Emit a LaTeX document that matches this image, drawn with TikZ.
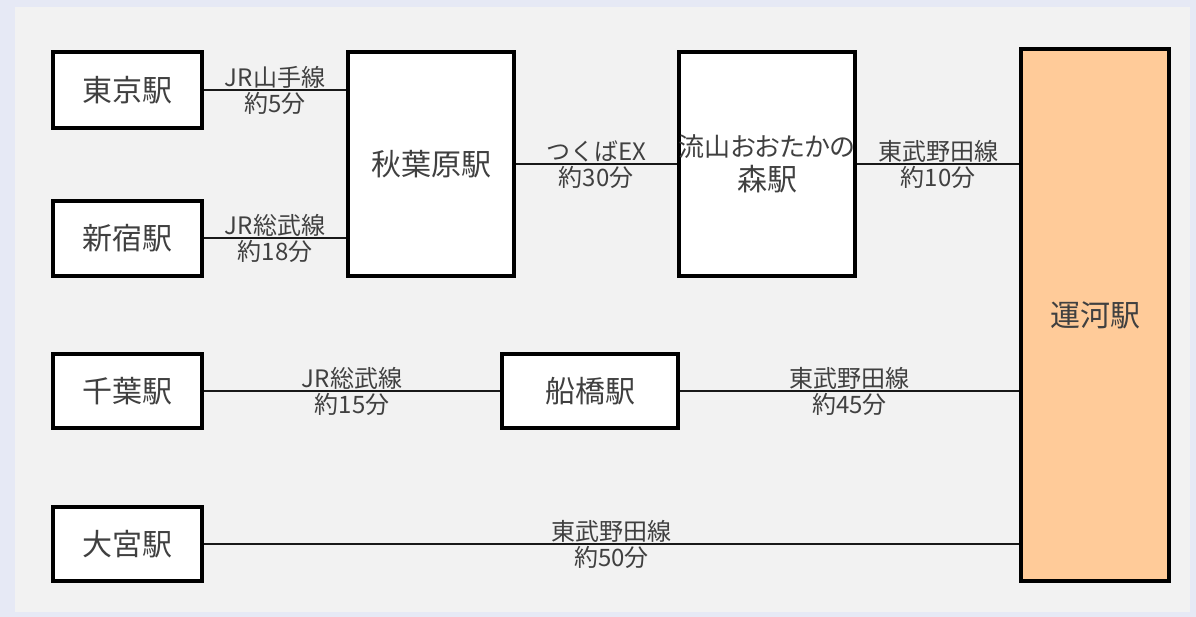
\documentclass[tikz,border=0pt]{standalone}
\usepackage{fontspec}
\setmainfont{Noto Sans CJK JP}
\newfontfamily\jpprop[RawFeature=+palt]{Noto Sans CJK JP}
\usetikzlibrary{calc}

\definecolor{panelgray}{HTML}{F2F2F2}
\definecolor{slideblue}{HTML}{E6E9F5}
\definecolor{textgray}{HTML}{404040}
\definecolor{ungaorange}{HTML}{FFCB99}

\begin{document}
\begin{tikzpicture}[x=1pt, y=-1pt,
	station/.style={draw, line width=4pt, fill=white, text=textgray,
		inner sep=0pt, align=center, font=\fontsize{30}{34}\selectfont},
	link/.style={line width=2pt, black!90},
	lineinfo/.style={text=textgray, inner sep=1pt,
		font=\fontsize{24}{26}\selectfont}]

	\def\xL{127.5}
	\def\yA{90}
	\def\yB{238.5}
	\def\yC{391}
	\def\yD{544}

	% background
	\useasboundingbox (0,0) rectangle (1196,617);
	\fill[slideblue] (0,0) rectangle (1196,617);
	\fill[panelgray] (15,7) rectangle (1190,612);

	% left column
	\node[station, minimum width=149pt, minimum height=76pt] (tokyo) at (\xL,\yA) {東京駅};
	\node[station, minimum width=149pt, minimum height=75pt] (shinjuku) at (\xL,\yB) {新宿駅};
	\node[station, minimum width=149pt, minimum height=74pt] (chiba) at (\xL,\yC) {千葉駅};
	\node[station, minimum width=149pt, minimum height=74pt] (omiya) at (\xL,\yD) {大宮駅};

	% middle
	\node[station, minimum width=166pt, minimum height=224pt] (akiba) at (431,164) {秋葉原駅};
	\node[station, minimum width=176pt, minimum height=224pt] (nagare) at (767,164)
		{{\jpprop\fontsize{26}{34}\selectfont 流山おおたかの}\\森駅};
	\node[station, minimum width=176pt, minimum height=74pt] (funa) at (590,\yC) {船橋駅};

	% Unga
	\node[station, fill=ungaorange, minimum width=148pt, minimum height=532pt] (unga) at (1095,315) {運河駅};

	\draw[link] (tokyo.east) -- (tokyo.east -| akiba.west)
		node[midway, above, lineinfo] {JR山手線}
		node[midway, below, lineinfo] {約5分};
	\draw[link] (shinjuku.east) -- (shinjuku.east -| akiba.west)
		node[midway, above, lineinfo] {JR総武線}
		node[midway, below, lineinfo] {約18分};
	\draw[link] (akiba) -- (nagare)
		node[midway, above, lineinfo] {つくばEX}
		node[midway, below, lineinfo] {約30分};
	\draw[link] (nagare.east) -- (nagare.east -| unga.west)
		node[midway, above, lineinfo] {東武野田線}
		node[midway, below, lineinfo] {約10分};
	\draw[link] (chiba) -- (funa)
		node[midway, above, lineinfo] {JR総武線}
		node[midway, below, lineinfo] {約15分};
	\draw[link] (funa.east) -- (funa.east -| unga.west)
		node[midway, above, lineinfo] {東武野田線}
		node[midway, below, lineinfo] {約45分};
	\draw[link] (omiya.east) -- (omiya.east -| unga.west)
		node[midway, above, lineinfo] {東武野田線}
		node[midway, below, lineinfo] {約50分};

\end{tikzpicture}
\end{document}
